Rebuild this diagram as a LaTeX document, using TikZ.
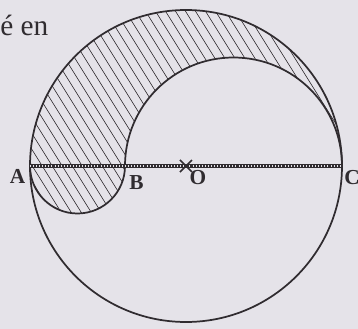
\documentclass[tikz,border=0pt]{standalone}
\usepackage{fontspec}
\setmainfont{Liberation Serif}
\definecolor{paper}{RGB}{229,227,233}
\definecolor{ink}{RGB}{48,44,48}
\begin{document}
\begin{tikzpicture}[x=0.75pt,y=0.75pt,
    rim/.style={draw=ink,line width=1.3pt},
    hatch/.style={draw=ink,line width=0.45pt},
    lbl/.style={font=\fontsize{16}{19}\selectfont\bfseries,text=ink,inner sep=0pt}
]
    \fill[paper] (-186,-163) rectangle (172,166);
    \useasboundingbox (-186,-163) rectangle (172,166);
    \coordinate (O) at (0,0);
    \coordinate (A) at (-156,0);
    \coordinate (B) at (-61,0);
    \coordinate (C) at (156,0);
    % hatched part
    \begin{scope}
        \clip (A) arc[start angle=180,end angle=0,radius=156]
              arc[start angle=0,end angle=180,radius=108.5]
              arc[start angle=0,end angle=-180,radius=47.5] -- cycle;
        \foreach \i in {-320,-310,...,160}
            \draw[hatch] (\i,170) -- ++(250,-400);
    \end{scope}
    \draw[rim] (O) circle[radius=156];
    \draw[rim] (C) arc[start angle=0,end angle=180,radius=108.5];
    \draw[rim] (B) arc[start angle=0,end angle=-180,radius=47.5];
    \draw[ink,line width=2.4pt] (A) -- (C);
    \draw[paper,line width=0.8pt,dash pattern=on 0.7pt off 1.6pt] (A) -- (C);
    \draw[ink,line width=1.1pt] (O) +(-6,6) -- +(6,-6) (O) +(-6,-6) -- +(6,6);
    \node[lbl] (lA) at (-168.5,-10.5) {A};
    \node[lbl] (lB) at (-49.5,-17) {B};
    \node[lbl] (lO) at (12,-12) {O};
    \node[lbl] (lC) at (166,-12) {C};
    \node[anchor=base west,inner sep=0pt,text=ink,font=\fontsize{22}{26}\selectfont] (txt) at (-186,131) {é en};
\end{tikzpicture}
\end{document}
